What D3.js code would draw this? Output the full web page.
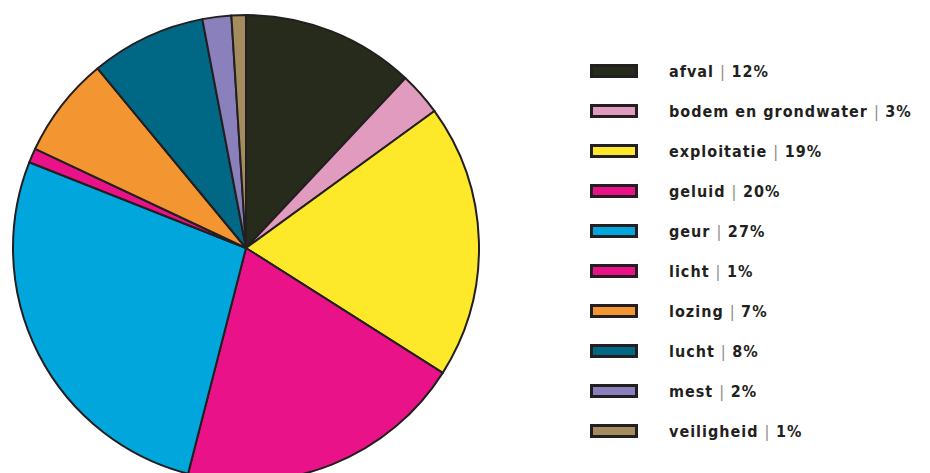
<!DOCTYPE html>
<html>
<head>
<meta charset="utf-8">
<script src="https://cdn.jsdelivr.net/npm/d3@7"></script>
<style>
  html, body { margin: 0; padding: 0; background: #ffffff; }
  svg { display: block; }
</style>
</head>
<body>
<svg id="chart" width="930" height="473"></svg>
<script>
// Aandeel klachten per milieuthema (%)
const categories = ["afval", "bodem en grondwater", "exploitatie", "geluid", "geur",
                    "licht", "lozing", "lucht", "mest", "veiligheid"];
const values = [12, 3, 19, 20, 27, 1, 7, 8, 2, 1];
const colors = ["#272b1b", "#e09bbf", "#fde92a", "#ea1289", "#00a6dc",
                "#ea1289", "#f39530", "#006785", "#8a80bb", "#a48c5e"];

const data = categories.map((c, i) => ({ name: c, value: values[i], color: colors[i] }));

const svg = d3.select("#chart");
const outline = "#231f20";

// Taartdiagram
const cx = 246, cy = 248, radius = 233;
const pie = d3.pie().value(d => d.value).sort(null);
const arc = d3.arc().innerRadius(0).outerRadius(radius);

svg.append("g")
  .attr("transform", `translate(${cx},${cy})`)
  .selectAll("path")
  .data(pie(data))
  .join("path")
  .attr("d", arc)
  .attr("fill", d => d.data.color)
  .attr("stroke", outline)
  .attr("stroke-width", 2)
  .attr("stroke-linejoin", "round");

// Legenda
const legendY = d3.scalePoint().domain(categories).range([71, 431]);
const legend = svg.append("g");

const rows = legend.selectAll("g")
  .data(data)
  .join("g")
  .attr("transform", d => `translate(0,${legendY(d.name)})`);

rows.append("rect")
  .attr("x", 591.5)
  .attr("y", -5.5)
  .attr("width", 45)
  .attr("height", 11)
  .attr("fill", d => d.color)
  .attr("stroke", outline)
  .attr("stroke-width", 3);

const labels = rows.append("text")
  .attr("x", 669)
  .attr("y", 0)
  .attr("dy", "0.35em")
  .attr("font-family", "'DejaVu Sans Condensed', 'Liberation Sans Narrow', 'Liberation Sans', sans-serif")
  .attr("font-size", 16)
  .attr("font-weight", "bold")
  .attr("letter-spacing", 1)
  .attr("fill", "#231f20");

labels.append("tspan").text(d => d.name + " ");
labels.append("tspan").attr("fill", "#8a8a8a").attr("font-weight", "normal").text("| ");
labels.append("tspan").text(d => d.value + "%");
</script>
</body>
</html>
